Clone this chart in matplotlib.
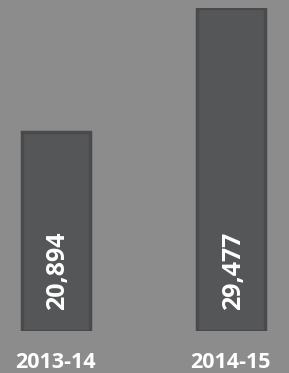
import matplotlib.pyplot as plt

# 데이터
categories = ['2013-14', '2014-15']
values = [20894, 29477]
value_labels = ['20,894', '29,477']

W, H = 289, 373
fig = plt.figure(figsize=(W / 100, H / 100), dpi=100)
fig.patch.set_facecolor('#8c8c8d')

# 축: 막대 바닥 y=331px, 가장 큰 막대 위 y=8px
ax = fig.add_axes([0, 42 / H, 1, 323 / H])
ax.set_facecolor('none')
base = 7120
ax.set_ylim(base, max(values))
ax.set_xlim(-0.319, 1.328)

x = range(len(categories))
ax.bar(x, [v - base for v in values], bottom=base, width=0.387,
       color='#555658', edgecolor='#4a4a4c', linewidth=2.5)

for i, lab in enumerate(value_labels):
    ax.text(i + 0.01, base + 1450, lab, rotation=90, ha='center', va='bottom',
            color='white', fontsize=18, fontweight='bold', family='Open Sans')

ax.axis('off')

for i, c in enumerate(categories):
    xpix = 55 + i * 175.5
    fig.text(xpix / W, (H - 362) / H, c, ha='center', va='center',
             color='white', fontsize=15.5, fontweight='bold', family='Open Sans')

fig.savefig('out.png', dpi=100, facecolor=fig.get_facecolor())
